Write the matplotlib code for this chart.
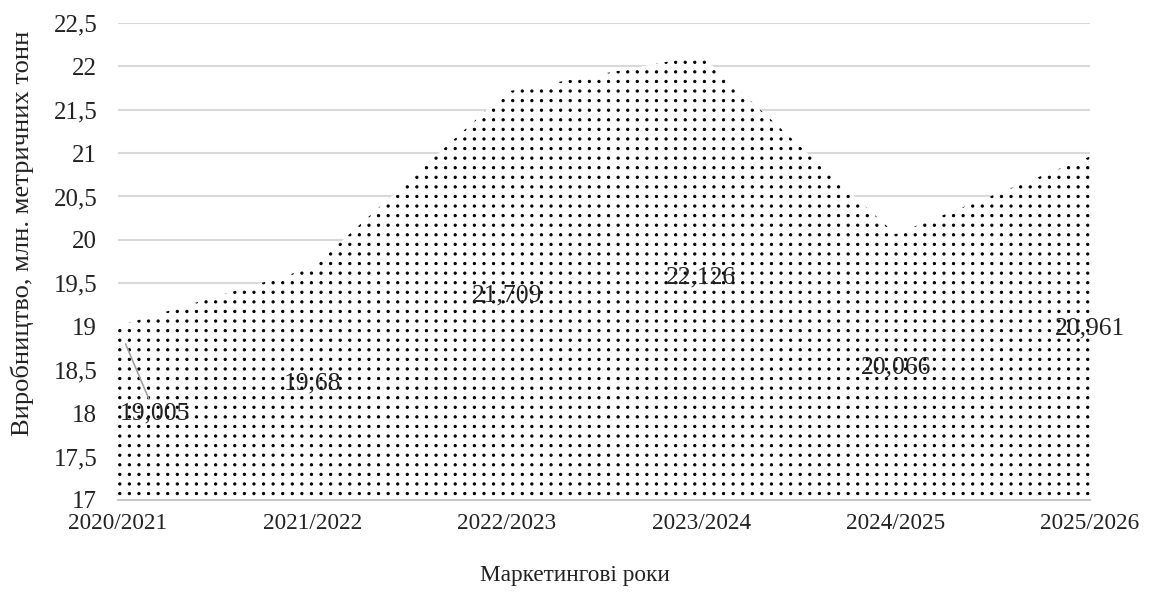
import matplotlib
matplotlib.use("Agg")
import matplotlib.pyplot as plt
import matplotlib.hatch as mhatch
from matplotlib.path import Path
import numpy as np

categories = ["2020/2021", "2021/2022", "2022/2023", "2023/2024", "2024/2025", "2025/2026"]
values = [19.005, 19.68, 21.709, 22.126, 20.066, 20.961]
labels = ["19,005", "19,68", "21,709", "22,126", "20,066", "20,961"]
yticks = [17, 17.5, 18, 18.5, 19, 19.5, 20, 20.5, 21, 21.5, 22, 22.5]
ytick_labels = ["17", "17,5", "18", "18,5", "19", "19,5", "20", "20,5", "21", "21,5", "22", "22,5"]


# Aligned (non-staggered) dot hatch, replacing the default '.' pattern
class GridDots(mhatch.HatchPatternBase):
    size = 0.12

    def __init__(self, hatch, density):
        self.num_rows = hatch.count('.') * density
        circ = Path.unit_circle()
        self.shape_vertices = circ.vertices
        self.shape_codes = circ.codes
        self.num_vertices = (self.num_rows ** 2) * len(self.shape_vertices)

    def set_vertices_and_codes(self, vertices, codes):
        n = self.num_rows
        r = self.size / n
        nv = len(self.shape_vertices)
        k = 0
        for i in range(n):
            for j in range(n):
                cx = (i + 0.5) / n
                cy = (j + 0.5) / n
                vertices[k:k + nv] = self.shape_vertices * r + (cx, cy)
                codes[k:k + nv] = self.shape_codes
                k += nv
        return vertices, codes


mhatch._hatch_types = [t for t in mhatch._hatch_types
                       if t is not mhatch.SmallFilledCircles] + [GridDots]

plt.rcParams['font.family'] = ['Liberation Serif', 'DejaVu Serif']
plt.rcParams['hatch.linewidth'] = 0.6

DPI = 115.5
fig = plt.figure(figsize=(1155 / DPI, 592 / DPI), dpi=DPI)
ax = fig.add_axes([118 / 1155, 1 - 500 / 592, (1090 - 118) / 1155, (500 - 23) / 592])

x = np.arange(len(categories))
ymin = 17
ax.fill_between(x, ymin, values, facecolor='white', edgecolor='black',
                hatch='..', linewidth=0, zorder=2)

ax.set_xlim(0, len(categories) - 1)
ax.set_ylim(17, 22.5)
ax.set_yticks(yticks)
ax.set_yticklabels(ytick_labels)
ax.set_xticks(x)
ax.set_xticklabels(categories)
ax.tick_params(axis='x', length=0, labelsize=14.5, colors='#222222', pad=8)
ax.tick_params(axis='y', length=0, labelsize=15.5, colors='#222222', pad=13)

ax.grid(axis='y', color='#d9d9d9', linewidth=1.3, zorder=0)
ax.set_axisbelow(True)
for s in ['top', 'right', 'left']:
    ax.spines[s].set_visible(False)
ax.spines['bottom'].set_color('#c8c8c8')
ax.spines['bottom'].set_linewidth(1.3)
ax.spines['bottom'].set_zorder(3)

ax.set_xlabel("Маркетингові роки", fontsize=14.5, color='#222222')
ax.xaxis.set_label_coords((575 - 118) / 972, -(576 - 500) / 477)
ax.xaxis.label.set_va('center')
ax.set_ylabel("Виробництво, млн. метричних тонн", fontsize=16.5, color='#222222')
ax.yaxis.set_label_coords(-(118 - 22) / 972, (500 - 233) / 477)
ax.yaxis.label.set_va('center')

for i, (v, lab) in enumerate(zip(values, labels)):
    mid = (ymin + v) / 2
    if i == 0:
        ax.annotate(lab, xy=(i, v), xytext=(0.19, 18.0), ha='center', va='center',
                    fontsize=16, color='#222222', zorder=4,
                    arrowprops=dict(arrowstyle='-', color='#a0a0a0', lw=1.0,
                                    shrinkA=0, shrinkB=12))
    else:
        ax.text(i, mid, lab, ha='center', va='center', fontsize=16,
                color='#222222', zorder=4)

fig.savefig("out.png", dpi=DPI)
